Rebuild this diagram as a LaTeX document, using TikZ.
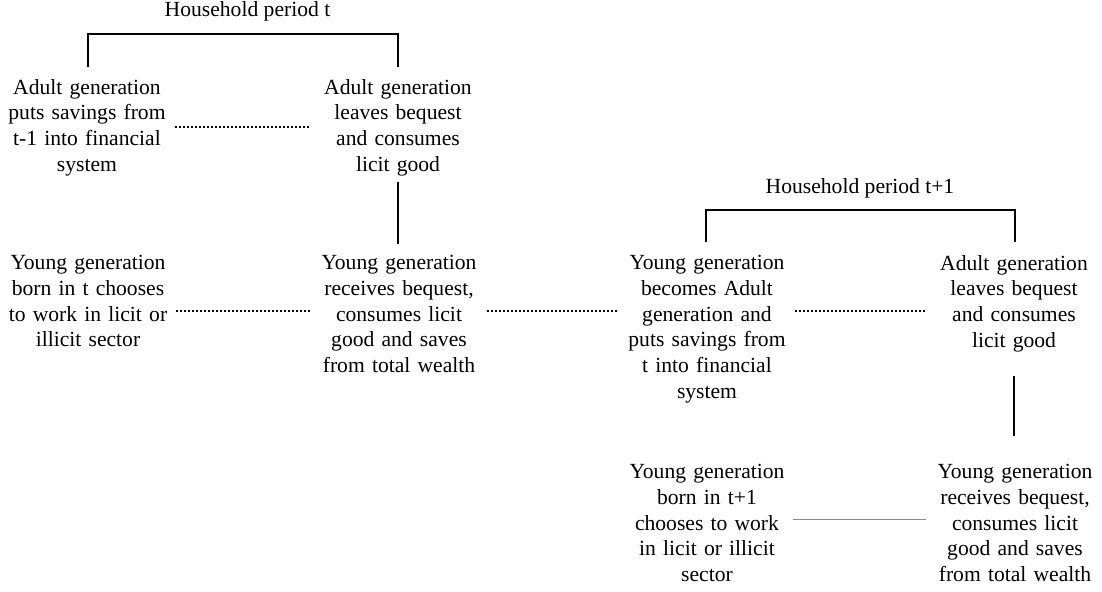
\documentclass[tikz,border=0pt]{standalone}
\usepackage{fontspec}
\setmainfont{Liberation Serif}
\begin{document}
\begin{tikzpicture}[x=1bp,y=-1bp,
  txt/.style={font=\fontsize{21.6bp}{25.8bp}\selectfont, align=center, text width=164bp, inner sep=0pt, anchor=north},
  title/.style={font=\fontsize{21.6bp}{25.8bp}\selectfont, inner sep=0pt, anchor=base},
  bar/.style={line width=2.6bp},
  dotline/.style={line width=2bp, dash pattern=on 2bp off 2bp, shorten <=6bp, shorten >=7bp},
  thinline/.style={line width=0.9bp, draw=black!45, shorten <=4bp, shorten >=7bp}]
\useasboundingbox (0,0) rectangle (1102,592);
% titles
\node[title] (ht) at (247.5,17) {Household period t};
\node[title] (ht1) at (860,194) {Household period t+1};
% row 1
\node[txt] (A1) at (87,79) {Adult generation\\puts savings from\\t-1 into financial\\system};
\node[txt] (A2) at (398,79) {Adult generation\\leaves bequest\\and consumes\\licit good};
% row 2
\node[txt] (Y1) at (88,255) {Young generation\\born in t chooses\\to work in licit or\\illicit sector};
\node[txt] (Y2) at (399,255) {Young generation\\receives bequest,\\consumes licit\\good and saves\\from total wealth};
\node[txt] (Y3) at (707,255) {Young generation\\becomes Adult\\generation and\\puts savings from\\t into financial\\system};
\node[txt] (A3) at (1014,255) {Adult generation\\leaves bequest\\and consumes\\licit good};
% row 3
\node[txt] (Y4) at (707,464) {Young generation\\born in t+1\\chooses to work\\in licit or illicit\\sector};
\node[txt] (Y5) at (1015,464) {Young generation\\receives bequest,\\consumes licit\\good and saves\\from total wealth};
% brackets
\coordinate (b1) at (88,67);
\coordinate (b2) at (398,67);
\coordinate (bt) at (247.5,34);
\draw[bar] (b1) |- (bt) -| (b2);
\coordinate (c1) at (706,242);
\coordinate (c2) at (1015,242);
\coordinate (ct) at (860,210);
\draw[bar] (c1) |- (ct) -| (c2);
% vertical links
\draw[bar, shorten <=6bp, shorten >=11bp] (A2.south) -- (A2.south |- Y2.north);
\draw[bar, shorten <=24bp, shorten >=28bp] (A3.south) -- (A3.south |- Y5.north);
% dotted links
\draw[dotline] (A1.east |- 0,127) -- (A2.west |- 0,127);
\draw[dotline] (Y1.east |- 0,311) -- (Y2.west |- 0,311);
\draw[dotline] (Y2.east |- 0,311) -- (Y3.west |- 0,311);
\draw[dotline] (Y3.east |- 0,311) -- (A3.west |- 0,311);
\draw[thinline] (Y4.east |- 0,519) -- (Y5.west |- 0,519);
\end{tikzpicture}
\end{document}
